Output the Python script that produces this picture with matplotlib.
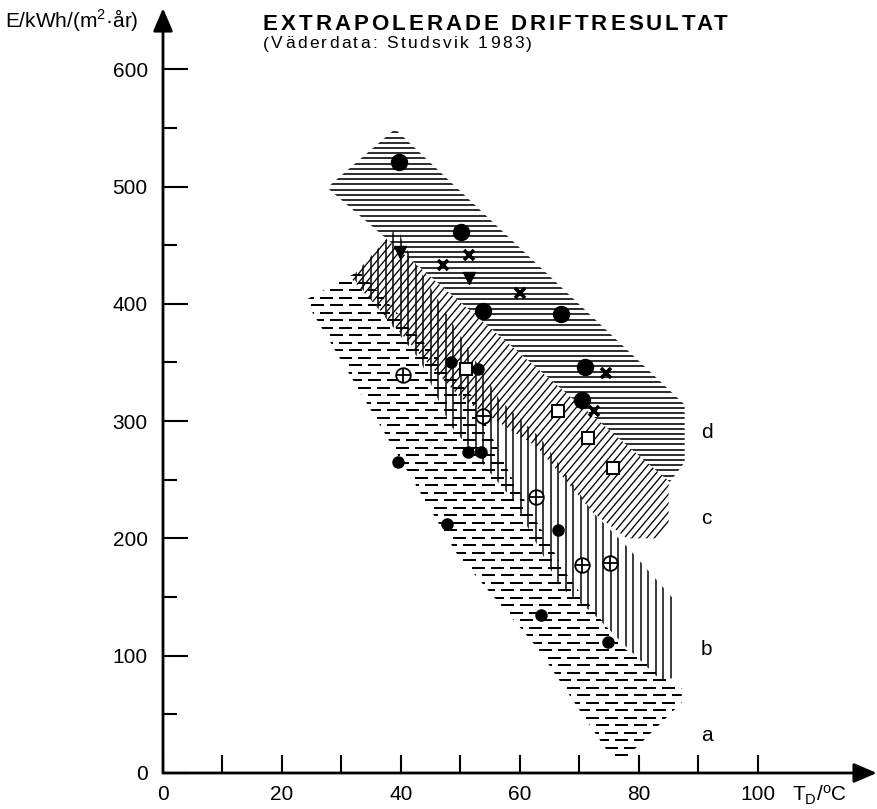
import numpy as np
import matplotlib
matplotlib.use("Agg")
import matplotlib.pyplot as plt
from matplotlib.patches import Polygon
from matplotlib.collections import LineCollection
from matplotlib.transforms import IdentityTransform

plt.rcParams['font.family'] = ['Liberation Sans', 'DejaVu Sans']
plt.rcParams['mathtext.fontset'] = 'custom'
plt.rcParams['mathtext.rm'] = 'Liberation Sans'
plt.rcParams['mathtext.it'] = 'Liberation Sans'

# ---- shaded result bands (T_D in degC, E in kWh/(m2 yr)) ----
band_a_x = [23.9, 33.0, 52.0, 58.8, 68.4, 77.3, 87.2, 87.2, 77.6, 75.6, 62.9, 49.4, 34.3]
band_a_y = [403, 428, 321, 250, 165, 107, 72, 60, 12, 12, 107, 187, 315]

band_b_x = [31.8, 39.5, 40.3, 56.6, 63.4, 72.3, 78.0, 86.4, 86.4, 83.5, 78.0, 72.3, 66.7, 58.8, 48.2, 43.2]
band_b_y = [423, 466, 452, 318, 286, 222, 193, 145, 81, 80, 107, 136, 159, 233, 297, 352]

band_c_x = [31.4, 37.6, 85.0, 85.0, 82.7, 78.0, 72.3, 62.9, 50.0, 44.4]
band_c_y = [423, 455, 249, 212, 200, 200, 222, 278, 320, 350]

band_d_x = [27.6, 39.0, 87.7, 87.7, 85.2]
band_d_y = [499, 549, 314, 265, 248]

band_names = ['a', 'b', 'c', 'd']
band_label_y = [32, 105, 217, 290]

# ---- measured points ----
big_dot_x = [39.7, 50.1, 53.8, 66.9, 70.9, 70.4]
big_dot_y = [521, 461, 394, 391, 346, 318]

small_dot_x = [39.5, 48.4, 51.3, 53.4, 47.7, 66.4, 63.5, 74.8, 52.9]
small_dot_y = [265, 350, 274, 274, 212, 207, 135, 112, 344]

tri_x = [39.8, 51.4]
tri_y = [444, 422]

cross_x = [47.1, 51.4, 60.0, 74.5, 72.4]
cross_y = [433, 441.6, 409, 341, 308.6]

square_x = [66.4, 71.4, 75.6, 50.9]
square_y = [308.6, 285.6, 260, 344]

oplus_x = [40.3, 53.8, 62.7, 70.4, 75.1]
oplus_y = [339, 304, 235, 177, 179]

x_major = [0, 20, 40, 60, 80, 100]
x_minor = [10, 30, 50, 70, 90]
y_major = [0, 100, 200, 300, 400, 500, 600]
y_minor = [50, 150, 250, 350, 450, 550]

W, H = 878, 809
fig = plt.figure(figsize=(W / 100, H / 100), dpi=100)
fig.patch.set_facecolor('white')
ax = fig.add_axes([163 / W, 36 / H, (W - 163) / W, 773 / H])
ax.set_xlim(0, 120.2)
ax.set_ylim(0, 659)
ax.set_autoscale_on(False)
for s in ax.spines.values():
    s.set_visible(False)

PT = 0.72  # points per pixel at 100 dpi


def clip_patch(xs, ys):
    p = Polygon(np.column_stack([xs, ys]), closed=True, fill=False,
                edgecolor='none', transform=ax.transData)
    ax.add_patch(p)
    return p


def disp_bbox(xs, ys):
    pts = ax.transData.transform(np.column_stack([xs, ys]))
    return pts.min(axis=0) - 4, pts.max(axis=0) + 4


def add_segments(segs, patch, lw):
    lc = LineCollection(segs, colors='black', linewidths=lw * PT,
                        transform=IdentityTransform(), capstyle='butt')
    ax.add_collection(lc, autolim=False)
    lc.set_clip_path(patch)


def hatch_horizontal(xs, ys, step, lw):
    patch = clip_patch(xs, ys)
    (x0, y0), (x1, y1) = disp_bbox(xs, ys)
    segs = [[(x0, y), (x1, y)] for y in np.arange(y0, y1, step)]
    add_segments(segs, patch, lw)


def hatch_vertical(xs, ys, step, lw):
    patch = clip_patch(xs, ys)
    (x0, y0), (x1, y1) = disp_bbox(xs, ys)
    segs = [[(x, y0), (x, y1)] for x in np.arange(x0, x1, step)]
    add_segments(segs, patch, lw)


def hatch_diagonal(xs, ys, step, lw, angle=50):
    patch = clip_patch(xs, ys)
    (x0, y0), (x1, y1) = disp_bbox(xs, ys)
    run = (y1 - y0) / np.tan(np.radians(angle))
    segs = [[(xb, y0), (xb + run, y1)] for xb in np.arange(x0 - run, x1, step)]
    add_segments(segs, patch, lw)


def hatch_dashes(xs, ys, step, dash, gap, lw):
    patch = clip_patch(xs, ys)
    (x0, y0), (x1, y1) = disp_bbox(xs, ys)
    segs = []
    for i, y in enumerate(np.arange(y0, y1, step)):
        off = (i % 2) * (dash + gap) / 2
        for xa in np.arange(x0 - off, x1, dash + gap):
            segs.append([(xa, y), (xa + dash, y)])
    add_segments(segs, patch, lw)


hatch_dashes(band_a_x, band_a_y, 7.5, 13, 6, 2.0)
hatch_vertical(band_b_x, band_b_y, 7.5, 1.5)
hatch_diagonal(band_c_x, band_c_y, 7.5, 1.3)
hatch_horizontal(band_d_x, band_d_y, 5.2, 1.6)

# ---- point markers ----
ax.plot(big_dot_x, big_dot_y, 'o', ms=11.5, color='black', zorder=5)
ax.plot(small_dot_x, small_dot_y, 'o', ms=8, color='black', zorder=5)
ax.plot(tri_x, tri_y, 'v', ms=9, color='black', zorder=5)
ax.plot(cross_x, cross_y, 'x', ms=7, mew=2.6, color='black', zorder=5)
ax.plot(square_x, square_y, 's', ms=8.5, mfc='white', mec='black', mew=1.4, zorder=5)
ax.plot(oplus_x, oplus_y, 'o', ms=10.5, mfc='white', mec='black', mew=1.3, zorder=5)
ax.plot(oplus_x, oplus_y, '+', ms=10.5, color='black', mew=1.3, zorder=6)

for name, ly in zip(band_names, band_label_y):
    ax.text(91.4, ly, name, fontsize=15, ha='center', va='center')

# ---- axes with arrows ----
arrow = dict(arrowstyle='-|>,head_length=0.7,head_width=0.3', lw=2,
             color='black', shrinkA=0, shrinkB=0, mutation_scale=20)
ax.annotate('', xy=(0, 652), xytext=(0, 0), arrowprops=arrow,
            annotation_clip=False)
ax.annotate('', xy=(120.0, 0), xytext=(0, 0), arrowprops=arrow,
            annotation_clip=False)

ax.set_xticks(x_major)
ax.set_xticks(x_minor, minor=True)
ax.set_yticks(y_major)
ax.set_yticks(y_minor, minor=True)
ax.set_xticklabels([str(v) for v in x_major])
ax.set_yticklabels([str(v) for v in y_major])
ax.tick_params(axis='x', which='both', direction='in', length=13, width=1.5,
               pad=9, labelsize=15)
ax.tick_params(axis='y', which='major', direction='in', length=18, width=1.5,
               pad=11, labelsize=15)
ax.tick_params(axis='y', which='minor', direction='in', length=10, width=1.5)

renderer = fig.canvas.get_renderer()


def tracked_text(x_px, y_px, s, size, track, **kw):
    """Left-aligned text with extra spacing between letters."""
    probe = fig.text(0, 0, '', fontsize=size, alpha=0, **kw)
    ref = fig.text(0, 0, 'I', fontsize=size, alpha=0, **kw)
    w_i = ref.get_window_extent(renderer).width
    for i, ch in enumerate(s):
        if i == 0:
            w = 0.0
        else:
            # measure the prefix with a trailing 'I' so spaces are counted
            probe.set_text(s[:i] + 'I')
            w = probe.get_window_extent(renderer).width - w_i
        fig.text((x_px + w + i * track) / W, 1 - y_px / H, ch, fontsize=size,
                 va='center', ha='left', **kw)
    probe.remove()
    ref.remove()


tracked_text(263, 24, 'EXTRAPOLERADE DRIFTRESULTAT', 16, 3.0, fontweight='bold')
tracked_text(263, 44, '(Väderdata: Studsvik 1983)', 12.5, 2.3)

fig.text(5 / W, 1 - 20 / H, r'E/kWh/(m$^{2}$·år)', fontsize=15, va='center', ha='left')
fig.text(792 / W, 1 - 795 / H, r'T$_{\mathrm{D}}$/$^{\mathrm{o}}$C', fontsize=15,
         va='center', ha='left')

fig.savefig('out.png', dpi=100, facecolor='white')
